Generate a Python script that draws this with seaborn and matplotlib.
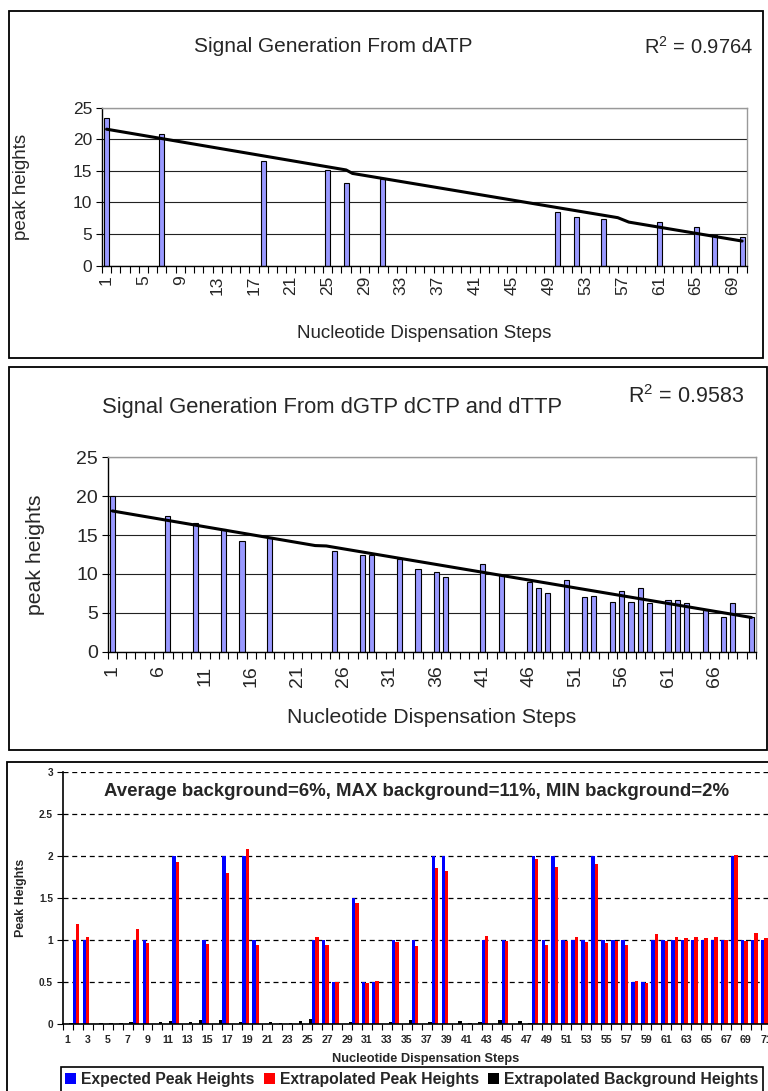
import numpy as np
import pandas as pd
import matplotlib
matplotlib.use("Agg")
import matplotlib.pyplot as plt
from matplotlib.patches import Rectangle
from matplotlib.ticker import FuncFormatter
import seaborn as sns

# --- values ---
# panel 1: dATP
datp_steps = [1, 7, 18, 25, 27, 31, 50, 52, 55, 61, 65, 67, 70]
datp_heights = [23.3, 20.8, 16.6, 15.1, 13.1, 13.7, 8.5, 7.7, 7.4, 6.9, 6.2, 4.8, 4.6]
datp_trend_steps = [1, 27, 27.7, 56.5, 57.7, 70]
datp_trend = [21.6, 15.15, 14.6, 7.6, 6.9, 3.9]

# panel 2: dGTP dCTP dTTP
gct_steps = [1, 7, 10, 13, 15, 18, 25, 28, 29, 32, 34, 36, 37, 41, 43, 46, 47, 48,
             50, 52, 53, 55, 56, 57, 58, 59, 61, 62, 63, 65, 67, 68, 70]
gct_heights = [20.0, 17.4, 16.6, 15.8, 14.2, 14.6, 13.0, 12.4, 12.5, 11.9, 10.6, 10.2, 9.6,
               11.3, 9.9, 9.0, 8.2, 7.6, 9.2, 7.0, 7.2, 6.4, 7.8, 6.4, 8.2, 6.2, 6.6, 6.6,
               6.2, 5.4, 4.4, 6.2, 4.5]
gct_trend_steps = [1, 22.9, 24.1, 70]
gct_trend = [18.1, 13.65, 13.6, 4.4]

# panel 3: expected / extrapolated / background, steps 1..71
steps3 = list(range(1, 72))
expected = [0, 1, 1, 0, 0, 0, 0, 1, 1, 0, 0, 2, 0, 0, 1, 0, 2, 0, 2, 1,
            0, 0, 0, 0, 0, 1, 1, 0.5, 0, 1.5, 0.5, 0.5, 0, 1, 0, 1, 0, 2, 2, 0,
            0, 0, 1, 0, 1, 0, 0, 2, 1, 2, 1, 1, 1, 2, 1, 1, 1, 0.5, 0.5, 1,
            1, 1, 1, 1, 1, 1, 1, 2, 1, 1, 1]
extrapolated = [0, 1.19, 1.04, 0, 0, 0, 0, 1.13, 0.97, 0, 0, 1.93, 0, 0, 0.95, 0, 1.80, 0, 2.08, 0.94,
                0, 0, 0, 0, 0, 1.04, 0.94, 0.50, 0, 1.44, 0.49, 0.51, 0, 0.98, 0, 0.93, 0, 1.86, 1.82, 0,
                0, 0, 1.05, 0, 0.99, 0, 0, 1.96, 0.94, 1.87, 0.99, 1.04, 0.98, 1.90, 0.97, 0.99, 0.94, 0.51, 0.49, 1.07,
                0.99, 1.04, 1.03, 1.04, 1.03, 1.04, 1.00, 2.01, 0.99, 1.08, 1.03]
background = [0.02, 0, 0, 0.02, 0.02, 0.02, 0.03, 0, 0, 0.03, 0.04, 0, 0.03, 0.05, 0, 0.05, 0, 0.03, 0, 0,
              0.03, 0.02, 0.02, 0.04, 0.06, 0, 0, 0, 0.03, 0, 0, 0, 0.03, 0, 0.05, 0, 0.03, 0, 0, 0.04,
              0.02, 0.03, 0, 0.05, 0, 0.04, 0.02, 0, 0, 0, 0, 0, 0, 0, 0, 0, 0, 0, 0, 0,
              0, 0, 0, 0, 0, 0, 0, 0, 0, 0, 0]
series_names = ["Expected Peak Heights", "Extrapolated Peak Heights", "Extrapolated Background Heights"]
series_colors = ["#0000ff", "#ff0000", "#000000"]

W, H = 768, 1091

sns.set_theme(style="ticks")
plt.rcParams["font.family"] = ["Liberation Sans", "DejaVu Sans"]
plt.rcParams["mathtext.fontset"] = "custom"
plt.rcParams["mathtext.rm"] = "Liberation Sans"
plt.rcParams["mathtext.it"] = "Liberation Sans:italic"
plt.rcParams["mathtext.bf"] = "Liberation Sans:bold"


def px_rect(left, top, right, bottom):
    return [left / W, 1 - bottom / H, (right - left) / W, (bottom - top) / H]


def frame(fig, left, top, right, bottom):
    fig.add_artist(Rectangle((left / W, 1 - bottom / H), (right - left) / W, (bottom - top) / H,
                             transform=fig.transFigure, fill=False, ec="black", lw=1.3))


def signal_panel(ax, steps, heights, trend_steps, trend_vals, every, fs_tick, fs_label, pad):
    df = pd.DataFrame({"step": steps, "height": heights})
    order = list(range(1, 71))
    sns.barplot(data=df, x="step", y="height", order=order, color="#9999ff", saturation=1,
                width=0.55, edgecolor="black", linewidth=0.8, errorbar=None, ax=ax)
    ax.plot(np.array(trend_steps) - 1, trend_vals, color="black", lw=2.2, zorder=5)
    ax.set_xlim(-0.5, 69.5)
    ax.set_ylim(0, 25)
    ax.set_yticks(range(0, 26, 5))
    ax.yaxis.grid(True, color="#222222", lw=0.8)
    ax.set_axisbelow(True)
    ax.set_xticks(range(0, 70, every))
    ax.set_xticklabels([str(i + 1) for i in range(0, 70, every)], rotation=90)
    ax.set_xticks(np.arange(-0.5, 70, 1), minor=True)
    ax.tick_params(axis="x", which="major", length=0, pad=pad, labelsize=fs_tick)
    ax.tick_params(axis="x", which="minor", length=5, width=0.8, color="black", direction="out")
    ax.tick_params(axis="y", length=4, width=0.8, color="black", labelsize=fs_tick, pad=3)
    for s in ("left", "bottom"):
        ax.spines[s].set_color("black")
        ax.spines[s].set_linewidth(1.0)
    for s in ("top", "right"):
        ax.spines[s].set_visible(True)
        ax.spines[s].set_color("#999999")
        ax.spines[s].set_linewidth(1.0)
    ax.set_xlabel("Nucleotide Dispensation Steps", fontsize=fs_label)
    ax.set_ylabel("peak heights", fontsize=fs_label)


fig = plt.figure(figsize=(W / 100, H / 100), dpi=100)

# panel frames
frame(fig, 9.3, 11, 762.7, 358)
frame(fig, 9.3, 367.3, 766.5, 750)
frame(fig, 6.7, 762, 800, 1110)

# panel 1
ax1 = fig.add_axes(px_rect(102, 107.7, 746.7, 265.7))
signal_panel(ax1, datp_steps, datp_heights, datp_trend_steps, datp_trend, 4, 12.5, 13.5, 7)
ax1.xaxis.set_label_coords(0.5, -0.375)
ax1.yaxis.set_label_coords(-0.112, 0.5)
fig.text(333 / W, 1 - 47 / H, "Signal Generation From dATP", ha="center", va="center", fontsize=15)
fig.text(753 / W, 1 - 47 / H, "R$^{2}$ = 0.9764", ha="right", va="center", fontsize=14.5)

# panel 2
ax2 = fig.add_axes(px_rect(107.7, 457.3, 756, 651.7))
signal_panel(ax2, gct_steps, gct_heights, gct_trend_steps, gct_trend, 5, 14, 15.3, 10)
ax2.xaxis.set_label_coords(0.5, -0.29)
ax2.yaxis.set_label_coords(-0.097, 0.5)
fig.text(332 / W, 1 - 407 / H, "Signal Generation From dGTP dCTP and dTTP", ha="center", va="center",
         fontsize=15.8)
fig.text(744 / W, 1 - 397 / H, "R$^{2}$ = 0.9583", ha="right", va="center", fontsize=15.5)

# panel 3
df3 = pd.DataFrame({"step": steps3,
                    series_names[0]: expected,
                    series_names[1]: extrapolated,
                    series_names[2]: background})
df3 = df3.melt(id_vars="step", var_name="series", value_name="value")
ax3 = fig.add_axes(px_rect(62.7, 771.7, 62.7 + 71 * 9.975, 1024.3))
sns.barplot(data=df3, x="step", y="value", hue="series", order=steps3, hue_order=series_names,
            palette=series_colors, width=1.0, linewidth=0, saturation=1, errorbar=None, ax=ax3)
ax3.set_xlim(-0.5, 70.5)
ax3.set_ylim(0, 3)
ax3.set_yticks(np.arange(0, 3.01, 0.5))
ax3.yaxis.set_major_formatter(FuncFormatter(lambda v, p: f"{v:g}"))
ax3.yaxis.grid(True, color="black", lw=0.9, ls=(0, (4, 3)))
ax3.set_axisbelow(True)
ax3.set_xticks(range(0, 71, 2))
ax3.set_xticklabels([str(i + 1) for i in range(0, 71, 2)])
ax3.set_xticks(np.arange(-0.5, 71, 1), minor=True)
ax3.tick_params(axis="x", which="major", length=0, pad=8, labelsize=7.6)
ax3.tick_params(axis="x", which="minor", length=4, width=0.8, color="black", direction="out")
ax3.tick_params(axis="y", length=4, width=0.8, color="black", labelsize=7.3, pad=3)
for lab in ax3.get_xticklabels() + ax3.get_yticklabels():
    lab.set_fontweight("bold")
for s in ("top", "right"):
    ax3.spines[s].set_visible(False)
for s in ("left", "bottom"):
    ax3.spines[s].set_color("black")
    ax3.spines[s].set_linewidth(1.2)
ax3.set_xlabel("Nucleotide Dispensation Steps", fontsize=9.2, fontweight="bold")
ax3.set_ylabel("Peak Heights", fontsize=8.9, fontweight="bold")
ax3.xaxis.set_label_coords(0.512, -0.112)
ax3.yaxis.set_label_coords(-0.051, 0.5)
ax3.text(0.5, 0.921, "Average background=6%, MAX background=11%, MIN background=2%",
         transform=ax3.transAxes, ha="center", va="center", fontsize=13.4, fontweight="bold")

handles, labels = ax3.get_legend_handles_labels()
ax3.get_legend().remove()
leg = fig.legend(handles, labels, loc="center", bbox_to_anchor=(411.8 / W, 1 - 1079.5 / H), ncol=3,
                 frameon=True, fancybox=False, edgecolor="black", framealpha=1,
                 prop={"weight": "bold", "size": 11.3}, handlelength=0.7, handleheight=0.7,
                 handletextpad=0.3, columnspacing=0.6, borderpad=0.3, borderaxespad=0)
leg.get_frame().set_linewidth(1.2)

fig.savefig("out.png", dpi=100)
